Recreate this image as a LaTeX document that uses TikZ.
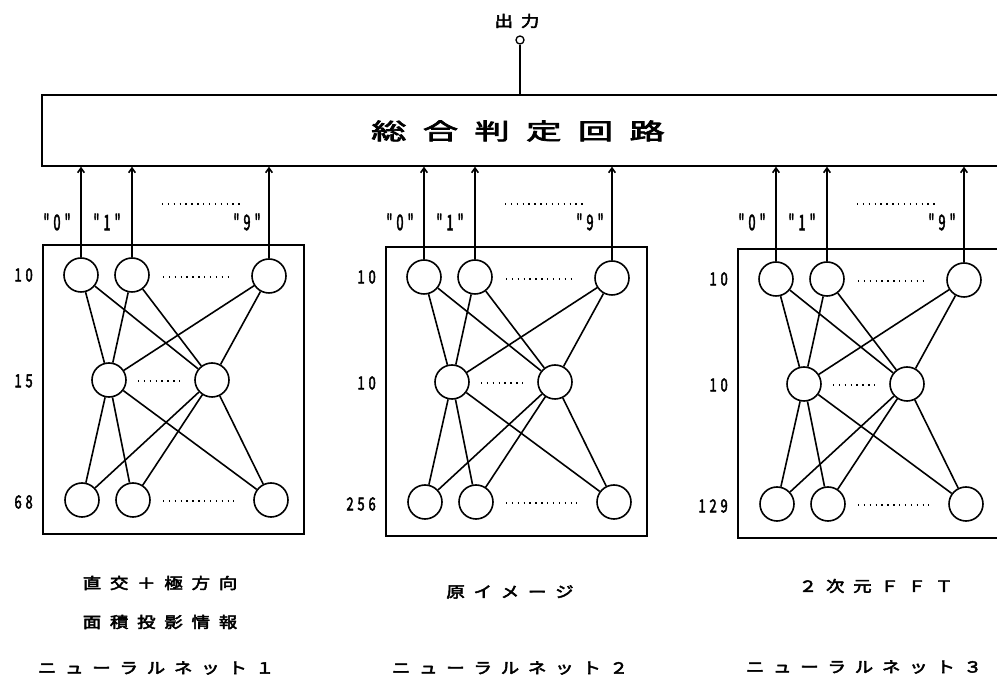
\documentclass[tikz,border=0pt]{standalone}
\usepackage{fontspec}
\usepackage{graphicx}
\usetikzlibrary{arrows.meta}
\newfontfamily\jp{Noto Sans CJK JP}[FakeBold=3]
\newcommand\jgap{\hspace{5.5pt}}
\newcommand\kgap{\hspace{8pt}}
\newcommand\btext[1]{\scalebox{1.2}[1]{\jp\fontsize{11.5}{12}\selectfont #1}}
\newcommand\toplabtext[1]{\scalebox{0.6}[1]{\jp\fontsize{16}{16}\selectfont "\hspace{5pt}#1\hspace{5pt}"}}
\newcommand\laytext[1]{\scalebox{0.72}[1]{\jp\fontsize{13.5}{13.5}\selectfont #1}}
\tikzset{
  neuron/.style={circle, draw, line width=1.2pt, minimum size=25.5pt, inner sep=0pt},
  netbox/.style={draw, line width=1pt, minimum width=195.75pt, minimum height=216.75pt, inner sep=0pt},
  link/.style={line width=1.2pt},
  arr/.style={line width=1.2pt, -{Straight Barb[length=3.5pt,width=5pt]}},
  dotline/.style={line width=0.9pt, dash pattern=on 1pt off 3.4pt},
  lab/.style={inner sep=0pt},
  laylab/.style={inner sep=0pt, anchor=east}
}
% #1 prefix, #2 dx, #3 dy, #4 #5 #6 layer sizes
\newcommand\drawnet[6]{%
  \begin{scope}[shift={(#2,#3)}]
    \node[netbox] (#1box) at (173.5,389.5) {};
    \node[neuron] (#1t1) at (81,275) {};
    \node[neuron] (#1t2) at (132,275) {};
    \node[neuron] (#1t9) at (269,276) {};
    \node[neuron] (#1m1) at (109,380) {};
    \node[neuron] (#1m2) at (212,380) {};
    \node[neuron] (#1b1) at (82,500) {};
    \node[neuron] (#1b2) at (133,500) {};
    \node[neuron] (#1b9) at (271,500) {};
    \draw[dotline] (163,277) -- (233,277);
    \draw[dotline] (138,381) -- (183,381);
    \draw[dotline] (163,501) -- (234,501);
    \node[laylab] (#1n1) at (33,275) {\laytext{#4}};
    \node[laylab] (#1n2) at (33,381) {\laytext{#5}};
    \node[laylab] (#1n3) at (33,502) {\laytext{#6}};
  \end{scope}
  \foreach \a in {t1,t2,t9}{\foreach \b in {m1,m2}{\draw[link] (#1\a) -- (#1\b);}}
  \foreach \a in {m1,m2}{\foreach \b in {b1,b2,b9}{\draw[link] (#1\a) -- (#1\b);}}
  \foreach \a in {t1,t2,t9}{\draw[arr] (#1\a.north) -- (#1\a |- judge.south);}
  \node[lab] (#1q0) at ({#2+57},222) {\toplabtext{0}};
  \node[lab] (#1q1) at ({#2+107},222) {\toplabtext{1}};
  \node[lab] (#1q9) at ({#2+247},222) {\toplabtext{9}};
  \draw[dotline] ({#2+162},204) -- ({#2+240},204);
}
\begin{document}
\begin{tikzpicture}[x=0.75pt,y=-0.75pt]
\useasboundingbox (0,0) rectangle (997,680);
\clip (0,0) rectangle (997,680);
\fill[white] (0,0) rectangle (997,680);
% judge circuit
\node[draw, line width=1pt, minimum width=726pt, minimum height=53.25pt, inner sep=0pt] (judge) at (526,130.5) {};
\node[lab] (judgetext) at (518,131) {\scalebox{1.55}[1]{\jp\fontsize{17}{18}\selectfont 総\kgap 合\kgap 判\kgap 定\kgap 回\kgap 路}};
% output
\node[circle, draw, line width=1pt, minimum size=6pt, inner sep=0pt] (outc) at (520,40) {};
\draw[line width=1pt] (outc) -- (outc |- judge.north);
\node[lab] (outlab) at (517,21) {\btext{出\hspace{5pt}力}};
% nets
\drawnet{a}{0}{0}{1\hspace{4pt}0}{1\hspace{4pt}5}{6\hspace{4pt}8}
\drawnet{b}{343}{2}{1\hspace{4pt}0}{1\hspace{4pt}0}{2\hspace{4pt}5\hspace{4pt}6}
\drawnet{c}{695}{4}{1\hspace{4pt}0}{1\hspace{4pt}0}{1\hspace{4pt}2\hspace{4pt}9}
% bottom texts
\node[lab] (ta1) at (160,583) {\btext{直\jgap 交\jgap ＋\jgap 極\jgap 方\jgap 向}};
\node[lab] (ta2) at (160,622) {\btext{面\jgap 積\jgap 投\jgap 影\jgap 情\jgap 報}};
\node[lab] (tb1) at (510,592) {\btext{原\jgap イ\jgap メ\jgap ー\jgap ジ}};
\node[lab] (tc1) at (876,586) {\btext{２\jgap 次\jgap 元\jgap Ｆ\jgap Ｆ\jgap Ｔ}};
\node[lab] (na) at (156,668) {\btext{ニ\jgap ュ\jgap ー\jgap ラ\jgap ル\jgap ネ\jgap ッ\jgap ト\jgap １}};
\node[lab] (nb) at (510,668) {\btext{ニ\jgap ュ\jgap ー\jgap ラ\jgap ル\jgap ネ\jgap ッ\jgap ト\jgap ２}};
\node[lab] (nc) at (864,667) {\btext{ニ\jgap ュ\jgap ー\jgap ラ\jgap ル\jgap ネ\jgap ッ\jgap ト\jgap ３}};
\end{tikzpicture}
\end{document}
